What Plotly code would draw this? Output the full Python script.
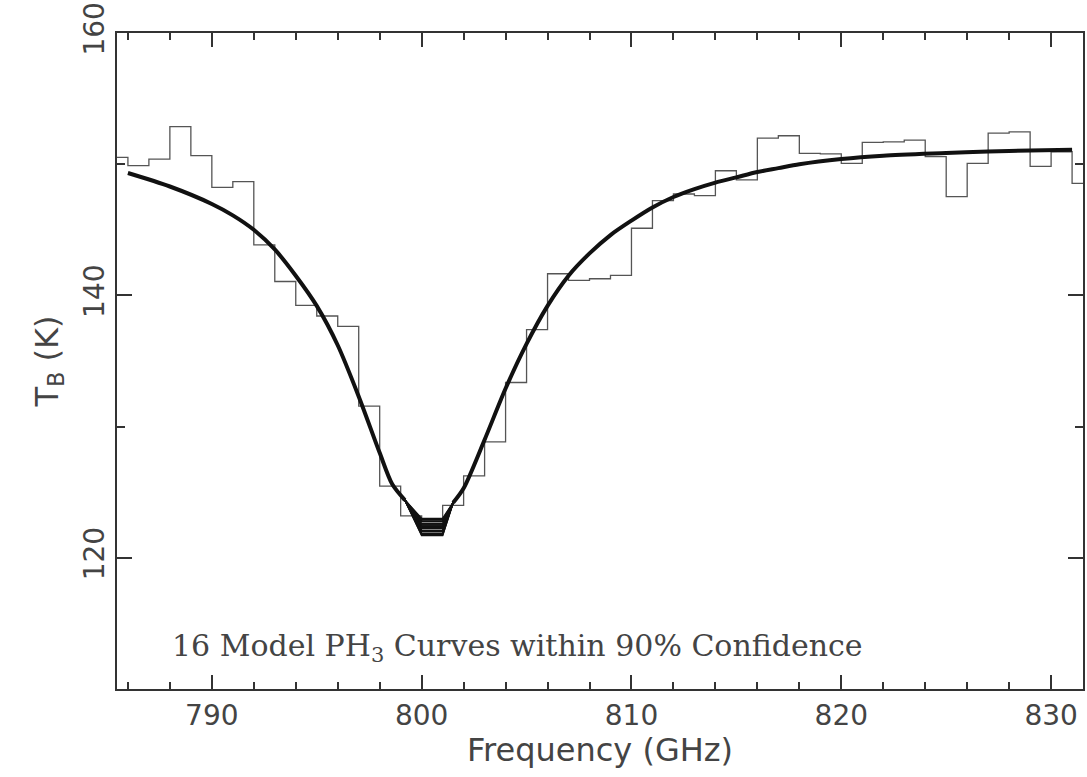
import plotly.graph_objects as go

# Observed spectrum: 1 GHz bins (left edges) and brightness temperatures (K)
bin_left = list(range(785, 832))
obs_tb = [150.52, 149.89, 150.39, 152.87, 150.65, 148.24, 148.67, 143.85, 141.06, 139.24,
          138.43, 137.64, 131.56, 125.47, 123.2, 122.8, 124.0, 126.25, 128.84, 133.36,
          137.39, 141.65, 141.14, 141.27, 141.52, 145.12, 147.22, 147.73, 147.6, 149.5,
          148.8, 151.99, 152.17, 150.82, 150.78, 150.06, 151.66, 151.70, 151.84, 150.57,
          147.53, 150.06, 152.37, 152.47, 149.83, 150.95, 148.54]

# Shared part of the 16 model curves (they coincide away from the line core)
model_left_x = [786, 788, 790, 791, 792, 793, 794, 795, 796, 797, 798, 798.6, 799.2]
model_left_y = [149.33, 148.3, 146.97, 146.1, 145.0, 143.5, 141.5, 139.2, 136.2,
                132.3, 128.0, 125.6, 124.4]
model_right_x = [801.5, 802, 803, 804, 805, 806, 807, 808, 809, 810, 811, 812, 813, 814,
                 815, 816, 817, 818, 820, 822, 825, 827, 829, 831]
model_right_y = [124.2, 125.3, 129.0, 132.9, 136.3, 139.2, 141.5, 143.2, 144.6,
                 145.7, 146.7, 147.5, 148.1, 148.6, 149.0, 149.4, 149.7, 150.0,
                 150.4, 150.65, 150.85, 150.97, 151.05, 151.1]

# Line-core minima of the 16 model curves (K), flat between 800 and 801 GHz
core_x = [799.2, 800.0, 801.0, 801.5]
core_min = [121.7, 121.75, 121.85, 122.0, 122.0, 122.1, 122.25, 122.3,
            122.4, 122.5, 122.5, 122.6, 122.75, 122.8, 122.9, 123.0]

fig = go.Figure()

# histogram-style observed spectrum
hx = bin_left + [bin_left[-1] + 1]
hy = obs_tb + [obs_tb[-1]]
fig.add_trace(go.Scatter(x=hx, y=hy, mode="lines", line=dict(color="#555555", width=1.3, shape="hv"),
                         showlegend=False, hoverinfo="skip"))

# model curves: line cores differ between the 16 curves
for m in core_min:
    ys = [model_left_y[-1], m, m, model_right_y[0]]
    fig.add_trace(go.Scatter(x=core_x, y=ys, mode="lines", line=dict(color="#111111", width=1.6),
                             showlegend=False, hoverinfo="skip"))
# overlapping curves appear as one thick line outside the core
fig.add_trace(go.Scatter(x=model_left_x, y=model_left_y, mode="lines",
                         line=dict(color="#111111", width=4, shape="spline", smoothing=0.8),
                         showlegend=False, hoverinfo="skip"))
fig.add_trace(go.Scatter(x=model_right_x, y=model_right_y, mode="lines",
                         line=dict(color="#111111", width=4, shape="spline", smoothing=0.8),
                         showlegend=False, hoverinfo="skip"))

axis_common = dict(
    showgrid=False, zeroline=False, showline=True, linecolor="#333333", linewidth=1.8,
    mirror="ticks", ticks="inside", tickcolor="#333333", tickwidth=1.5,
    tickfont=dict(family="DejaVu Sans", size=28, color="#444444"),
)

fig.update_xaxes(range=[785.48, 831.52], tick0=790, dtick=10, ticklen=14,
                 minor=dict(dtick=2, ticks="inside", ticklen=7, tickcolor="#333333", tickwidth=1.5),
                 title=dict(text="Frequency (GHz)", font=dict(family="DejaVu Sans", size=32, color="#444444"),
                            standoff=8),
                 **axis_common)
fig.update_yaxes(range=[110, 160], tick0=120, dtick=20, ticklen=15, tickangle=-90,
                 minor=dict(dtick=10, ticks="inside", ticklen=8, tickcolor="#333333", tickwidth=1.5),
                 title=dict(text="T<sub>B</sub> (K)", font=dict(family="DejaVu Sans", size=32, color="#444444"),
                            standoff=10),
                 **axis_common)

fig.add_annotation(x=788.0, y=113.2, xref="x", yref="y", xanchor="left", yanchor="middle",
                   text="16 Model PH<sub>3</sub> Curves within 90% Confidence", showarrow=False,
                   font=dict(family="DejaVu Serif", size=30, color="#444444"))

fig.update_layout(width=1087, height=777, margin=dict(l=117, r=2, t=32, b=88),
                  plot_bgcolor="white", paper_bgcolor="white")

fig.write_html("out.html")
